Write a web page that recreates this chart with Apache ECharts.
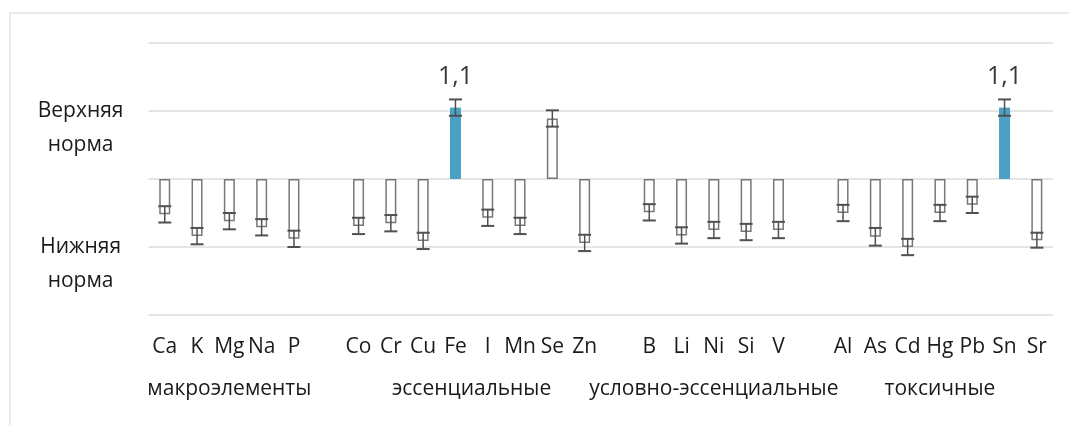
<!DOCTYPE html>
<html lang="ru">
<head>
    <meta charset="UTF-8">
    <title>Элементы относительно нормы</title>
    <script src="https://cdn.jsdelivr.net/npm/echarts@6/dist/echarts.min.js"></script>
    <style>
        body, html {
            margin: 0;
            padding: 0;
            width: 100%;
            height: 100%;
            background-color: #ffffff;
        }
        #main {
            width: 1069px;
            height: 425px;
        }
    </style>
</head>
<body>
    <div id="main"></div>
    <script>
        // элементы, пустая строка - промежуток между группами
        const categories = ['Ca', 'K', 'Mg', 'Na', 'P', '',
            'Co', 'Cr', 'Cu', 'Fe', 'I', 'Mn', 'Se', 'Zn', '',
            'B', 'Li', 'Ni', 'Si', 'V', '',
            'Al', 'As', 'Cd', 'Hg', 'Pb', 'Sn', 'Sr'];
        // положение относительно нормы: 1 = верхняя, -1 = нижняя
        const values = [-0.52, -0.84, -0.62, -0.71, -0.88, null,
            -0.69, -0.65, -0.91, 1.05, -0.57, -0.69, 0.89, -0.94, null,
            -0.49, -0.83, -0.75, -0.78, -0.75, null,
            -0.50, -0.85, -1.00, -0.50, -0.38, 1.05, -0.90];
        const errors = [0.12, 0.12, 0.12, 0.12, 0.12, null,
            0.12, 0.12, 0.12, 0.12, 0.12, 0.12, 0.12, 0.12, null,
            0.12, 0.12, 0.12, 0.12, 0.12, null,
            0.12, 0.13, 0.12, 0.12, 0.12, 0.12, 0.11];
        const groupNames = ['макроэлементы', 'эссенциальные', 'условно-эссенциальные', 'токсичные'];
        const normValues = [1, -1];
        const normLabels = ['Верхняя\nнорма', 'Нижняя\nнорма'];

        const FONT = '"Open Sans", "Liberation Sans", sans-serif';
        const TEXT = '#1a1a1a';

        // центр каждой группы по индексам категорий
        const groupCenters = [];
        let start = 0;
        categories.forEach((c, i) => {
            if (c === '' || i === categories.length - 1) {
                const end = c === '' ? i - 1 : i;
                groupCenters.push((start + end) / 2);
                start = i + 1;
            }
        });

        var chart = echarts.init(document.getElementById('main'));

        const option = {
            backgroundColor: '#ffffff',
            animation: false,
            textStyle: { fontFamily: FONT },
            graphic: [{
                type: 'rect',
                shape: { x: 10, y: 13, width: 1100, height: 500 },
                style: { fill: 'none', stroke: '#e3e3e3', lineWidth: 1.5 },
                silent: true
            }],
            grid: { left: 148.6, right: 16, top: 43, bottom: 110 },
            xAxis: [{
                type: 'category',
                data: categories,
                axisLine: { show: false },
                axisTick: { show: false },
                axisLabel: {
                    interval: 0,
                    margin: 22,
                    fontSize: 21,
                    color: TEXT,
                    fontFamily: FONT
                }
            }, {
                type: 'value',
                position: 'bottom',
                min: -0.5,
                max: categories.length - 0.5,
                interval: 0.5,
                axisLine: { show: false },
                axisTick: { show: false },
                splitLine: { show: false },
                axisLabel: {
                    margin: 64,
                    fontSize: 21,
                    color: TEXT,
                    fontFamily: FONT,
                    showMinLabel: true,
                    showMaxLabel: true,
                    formatter: function (v) {
                        const k = groupCenters.findIndex(c => Math.abs(c - v) < 1e-6);
                        return k >= 0 ? groupNames[k] : '';
                    }
                }
            }],
            yAxis: {
                type: 'value',
                min: -2,
                max: 2,
                interval: 1,
                axisLine: { show: false },
                axisTick: { show: false },
                splitLine: { lineStyle: { color: '#dcdcdc', width: 1.5 } },
                axisLabel: {
                    margin: 68,
                    align: 'center',
                    fontSize: 21,
                    lineHeight: 34,
                    color: TEXT,
                    fontFamily: FONT,
                    formatter: function (v) {
                        const k = normValues.indexOf(v);
                        return k >= 0 ? '\n' + normLabels[k] : '';
                    }
                }
            },
            series: [{
                type: 'bar',
                barWidth: 11,
                data: values.map(v => {
                    if (v === null) return null;
                    const high = v > 1;
                    return {
                        value: v,
                        itemStyle: high
                            ? { color: '#4ba0c6', borderWidth: 0 }
                            : { color: '#ffffff', borderColor: '#787878', borderWidth: 1.5 },
                        label: {
                            show: high,
                            position: 'top',
                            distance: 18,
                            fontSize: 25,
                            color: '#3a3a3a',
                            fontFamily: FONT,
                            formatter: p => p.value.toFixed(1).replace('.', ',')
                        }
                    };
                })
            }, {
                type: 'custom',
                z: 5,
                data: values.map((v, i) => v === null ? [i, null, null] : [i, v - errors[i], v + errors[i]]),
                renderItem: function (params, api) {
                    if (api.value(1) === null || isNaN(api.value(1))) return;
                    const lo = api.coord([api.value(0), api.value(1)]);
                    const hi = api.coord([api.value(0), api.value(2)]);
                    const half = 6.5;
                    const st = { stroke: '#505050', lineWidth: 2 };
                    return {
                        type: 'group',
                        children: [
                            { type: 'line', shape: { x1: lo[0], y1: lo[1], x2: hi[0], y2: hi[1] }, style: { stroke: '#505050', lineWidth: 1.5 } },
                            { type: 'line', shape: { x1: lo[0] - half, y1: lo[1], x2: lo[0] + half, y2: lo[1] }, style: st },
                            { type: 'line', shape: { x1: hi[0] - half, y1: hi[1], x2: hi[0] + half, y2: hi[1] }, style: st }
                        ]
                    };
                }
            }]
        };

        chart.setOption(option);
        window.addEventListener('resize', function () {
            chart.resize();
        });
    </script>
</body>
</html>
